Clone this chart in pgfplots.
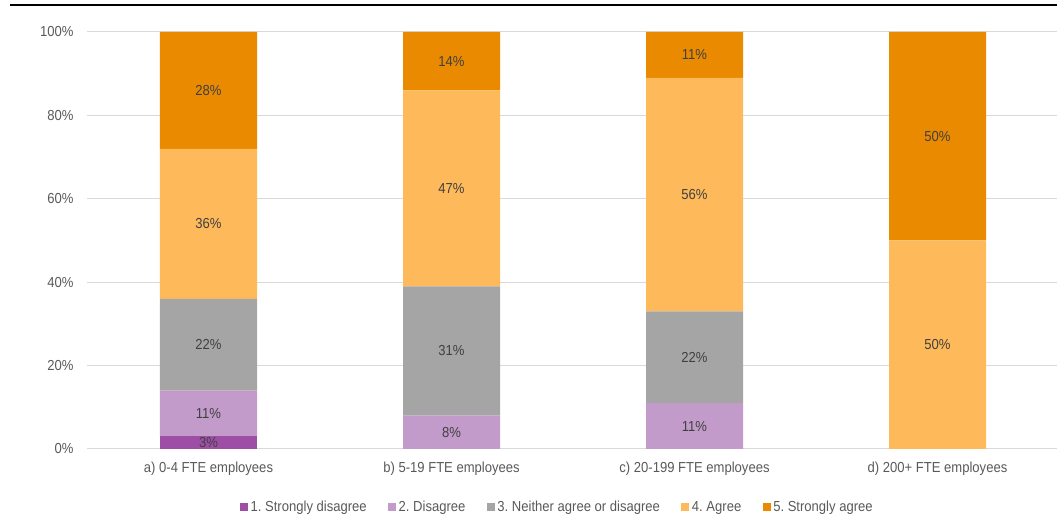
\documentclass[border=0pt]{standalone}
\usepackage{pgfplots}
\pgfplotsset{compat=1.18}
\usepackage{fontspec}
\setmainfont{Liberation Sans}[FakeStretch=0.9]
\frenchspacing

\definecolor{sdis}{HTML}{9E4FA5}
\definecolor{dis}{HTML}{C39BCA}
\definecolor{neu}{HTML}{A5A5A5}
\definecolor{agr}{HTML}{FEBA5A}
\definecolor{sagr}{HTML}{EA8A00}
\definecolor{ticktext}{HTML}{595959}
\definecolor{valtext}{HTML}{404040}
\definecolor{gridgrey}{HTML}{D9D9D9}

\newcommand{\chartfont}{\fontsize{14.5bp}{17bp}\selectfont}

\tikzset{
  % zero-height segments get no label
  skip zero/.code={%
    \pgfkeys{/pgf/fpu=true}%
    \pgfmathparse{\pgfplotspointmeta-0}%
    \pgfmathfloatifflags{\pgfmathresult}{0}{\pgfkeys{/tikz/coordinate}}{}%
    \pgfkeys{/pgf/fpu=false}%
  },
}

\begin{document}
\begin{tikzpicture}[font=\chartfont]
  % page frame and the rule across the top
  \useasboundingbox (0,0) rectangle (1057bp,514bp);
  \draw[line width=2.5bp] (10bp,509bp) -- (1057bp,509bp);

  \begin{axis}[
    at={(87bp,65bp)}, anchor=south west,
    scale only axis, width=970bp, height=417bp,
    ybar stacked, bar width=97bp,
    xmin=-0.5, xmax=3.4918, ymin=0, ymax=100,
    axis line style={draw=none},
    ymajorgrids, grid style={gridgrey, line width=1bp},
    major tick length=0pt,
    ytick={0,20,40,60,80,100},
    yticklabel={\pgfmathprintnumber{\tick}\%},
    /pgf/number format/assume math mode=true,
    xtick={0,1,2,3},
    xticklabels={a) 0-4 FTE employees, b) 5-19 FTE employees, c) 20-199 FTE employees, d) 200+ FTE employees},
    tick label style={font=\chartfont, text=ticktext},
    yticklabel style={xshift=-10bp},
    xticklabel style={yshift=-9bp},
    % stacked segments are labelled in their middle
    nodes near coords={\pgfmathprintnumber[fixed,precision=0]{\pgfplotspointmeta}\%},
    every node near coord/.append style={
      font=\chartfont, text=valtext, anchor=center, skip zero
    },
    legend columns=-1,
    legend style={
      at={(0.1577,-0.139)}, anchor=west, draw=none, fill=none,
      font=\chartfont, text=ticktext,
      inner xsep=0pt, inner ysep=0pt,
      nodes={inner xsep=2.5bp, inner ysep=0pt},
      /tikz/every even column/.append style={column sep=19bp},
    },
    legend image code/.code={\fill[#1] (0bp,-4bp) rectangle (8bp,4bp);},
  ]
    \addplot[fill=sdis, draw=none] coordinates {(0,3) (1,0) (2,0) (3,0)};
    \addlegendentry{1. Strongly disagree}
    \addplot[fill=dis, draw=none] coordinates {(0,11) (1,8) (2,11) (3,0)};
    \addlegendentry{2. Disagree}
    \addplot[fill=neu, draw=none] coordinates {(0,22) (1,31) (2,22) (3,0)};
    \addlegendentry{3. Neither agree or disagree}
    \addplot[fill=agr, draw=none] coordinates {(0,36) (1,47) (2,56) (3,50)};
    \addlegendentry{4. Agree}
    \addplot[fill=sagr, draw=none] coordinates {(0,28) (1,14) (2,11) (3,50)};
    \addlegendentry{5. Strongly agree}
  \end{axis}
\end{tikzpicture}
\end{document}
